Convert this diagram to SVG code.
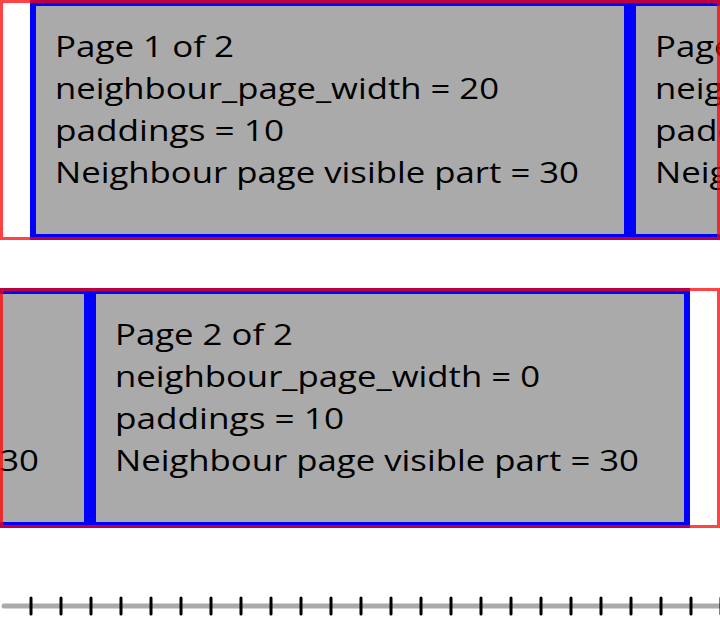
<svg xmlns="http://www.w3.org/2000/svg" width="720" height="636" viewBox="0 0 720 636">
  <style>
    .page { fill: #aaaaaa; stroke: #0000ff; stroke-width: 6; }
    .frame { fill: none; stroke: #ff0000; stroke-width: 3; stroke-opacity: 0.74; }
    .label { font-family: "Open Sans", "Liberation Sans", sans-serif; font-size: 30px; fill: #000000; }
    .axis { stroke: #aaaaaa; stroke-width: 5; stroke-linecap: round; }
    .tick { stroke: #000000; stroke-width: 3; stroke-linecap: round; }
  </style>
  <defs>
    <g id="page1text" class="label">
      <text x="25" y="57" textLength="179" lengthAdjust="spacingAndGlyphs">Page 1 of 2</text>
      <text x="25" y="99" textLength="444" lengthAdjust="spacingAndGlyphs">neighbour_page_width = 20</text>
      <text x="25" y="141" textLength="229" lengthAdjust="spacingAndGlyphs">paddings = 10</text>
      <text x="25" y="183" textLength="524" lengthAdjust="spacingAndGlyphs">Neighbour page visible part = 30</text>
    </g>
    <g id="page2text" class="label">
      <text x="25" y="57" textLength="178" lengthAdjust="spacingAndGlyphs">Page 2 of 2</text>
      <text x="25" y="99" textLength="425" lengthAdjust="spacingAndGlyphs">neighbour_page_width = 0</text>
      <text x="25" y="141" textLength="229" lengthAdjust="spacingAndGlyphs">paddings = 10</text>
      <text x="25" y="183" textLength="524" lengthAdjust="spacingAndGlyphs">Neighbour page visible part = 30</text>
    </g>
  </defs>

  <!-- Scroll position 1: first page active -->
  <g id="state1">
    <g id="s1-page1" transform="translate(30,0)">
      <rect class="page" x="3" y="3" width="594" height="234"/>
      <use href="#page1text"/>
    </g>
    <g id="s1-page2" transform="translate(630,0)">
      <rect class="page" x="3" y="3" width="594" height="234"/>
      <use href="#page2text"/>
    </g>
    <rect id="s1-viewport" class="frame" x="1.5" y="1.5" width="717" height="237"/>
  </g>

  <!-- Scroll position 2: second page active -->
  <g id="state2">
    <g id="s2-page1" transform="translate(-510,288)">
      <rect class="page" x="3" y="3" width="594" height="234"/>
      <use href="#page1text"/>
    </g>
    <g id="s2-page2" transform="translate(90,288)">
      <rect class="page" x="3" y="3" width="594" height="234"/>
      <use href="#page2text"/>
    </g>
    <rect id="s2-viewport" class="frame" x="1.5" y="289.5" width="717" height="237"/>
  </g>

  <!-- Pixel ruler, tick every 30px -->
  <g id="ruler">
    <line class="axis" x1="4" y1="606" x2="724" y2="606"/>
    <path class="tick" d="M31 598V614M61 598V614M91 598V614M121 598V614M151 598V614M181 598V614M211 598V614M241 598V614M271 598V614M301 598V614M331 598V614M361 598V614M391 598V614M421 598V614M451 598V614M481 598V614M511 598V614M541 598V614M571 598V614M601 598V614M631 598V614M661 598V614M691 598V614M721 598V614"/>
  </g>
</svg>
